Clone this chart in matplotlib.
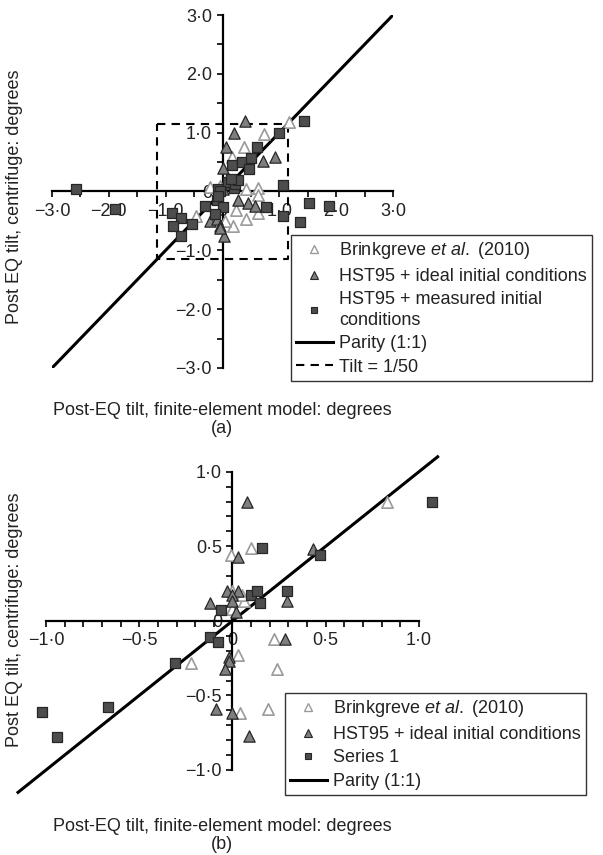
import matplotlib
matplotlib.use("Agg")
import matplotlib.pyplot as plt
from matplotlib.lines import Line2D
from matplotlib.ticker import MultipleLocator, FuncFormatter

plt.rcParams['font.family'] = ['Liberation Sans', 'DejaVu Sans']
plt.rcParams['mathtext.fontset'] = 'custom'
plt.rcParams['mathtext.rm'] = 'Liberation Sans'
plt.rcParams['mathtext.it'] = 'Liberation Sans:italic'

# ---- panel (a) data ----
brink_a_x = [1.17, 0.73, 0.38, 0.16, -0.22, 0.41, 0.63, 0.63, 0.24, 0.62, 0.42, 0.19, -0.46, 0.05, -0.05]
brink_a_y = [1.18, 0.98, 0.75, 0.59, 0.08, 0.04, 0.06, -0.06, -0.31, -0.37, -0.46, -0.58, -0.41, -0.50, 0.10]
ideal_a_x = [0.39, 0.21, 0.07, 0.92, 0.71, 0.01, 0.28, 0.45, 0.58, -0.22, -0.10, -0.04, 0.02, -0.05, 0.10, 0.00]
ideal_a_y = [1.20, 1.00, 0.76, 0.58, 0.52, 0.40, -0.15, -0.20, -0.24, -0.50, -0.46, -0.59, -0.76, -0.62, 0.15, 0.05]
meas_a_x = [-2.57, -1.89, -0.89, -0.73, -0.87, -0.73, -0.54, -0.30, -0.10, -0.08, 0.00, -0.13,
            0.16, 0.34, 0.51, 0.47, 0.61, 1.00, 1.44, 1.06, 1.53, 1.87, 0.76, 1.07, 1.37,
            0.21, 0.10, 0.22, 0.28, 0.15, -0.05, -0.08]
meas_a_y = [0.04, -0.30, -0.37, -0.45, -0.59, -0.76, -0.55, -0.24, -0.14, 0.05, -0.26, -0.38,
            0.45, 0.50, 0.57, 0.39, 0.75, 0.99, 1.20, 0.11, -0.19, -0.25, -0.26, -0.41, -0.51,
            0.06, 0.16, 0.13, 0.19, 0.22, 0.00, -0.08]
tilt_limit = 1.146  # 1/50 rad in degrees

# ---- panel (b) data ----
brink_b_x = [0.10, -0.01, 0.00, 0.06, 0.00, 0.22, 0.03, 0.24, 0.19, 0.04, -0.22, 0.83, 0.05]
brink_b_y = [0.49, 0.44, 0.20, 0.13, 0.08, -0.12, -0.23, -0.32, -0.59, -0.62, -0.28, 0.80, 0.17]
ideal_b_x = [0.08, 0.03, 0.43, -0.03, 0.03, 0.00, 0.00, -0.12, 0.02, 0.29, 0.28, -0.02, -0.02,
             -0.04, 0.00, -0.09, 0.09]
ideal_b_y = [0.80, 0.43, 0.48, 0.20, 0.20, 0.17, 0.13, 0.12, 0.06, 0.13, -0.12, -0.24, -0.27,
             -0.32, -0.62, -0.59, -0.77]
series1_b_x = [0.16, 0.47, 0.10, 0.13, 0.15, 0.29, -0.06, -0.12, -0.08, 1.07, -0.31, -0.67, -0.94, -1.02]
series1_b_y = [0.49, 0.44, 0.17, 0.20, 0.12, 0.20, 0.07, -0.11, -0.14, 0.80, -0.28, -0.58, -0.78, -0.61]

OPEN_EDGE = '#9a9a9a'
TRI_FILL = '#7f7f7f'
SQ_FILL = '#4d4d4d'
DARK_EDGE = '#262626'
TEXT = '#222222'
FS = 13


def fmt(step):
    def f(v, pos):
        if abs(v) < 1e-9:
            return '0'
        if abs(v / step - round(v / step)) > 1e-6:
            return ''
        s = '%.1f' % abs(v)
        s = s.replace('.', '\u00b7')
        return ('\u2212' + s) if v < 0 else s
    return FuncFormatter(f)


def style_axes(ax, lim, minor, label_step):
    ax.set_xlim(-lim, lim)
    ax.set_ylim(-lim, lim)
    for side in ['top', 'right']:
        ax.spines[side].set_visible(False)
    ax.spines['left'].set_position(('data', 0))
    ax.spines['bottom'].set_position(('data', 0))
    for side in ['left', 'bottom']:
        ax.spines[side].set_linewidth(1.6)
    ax.xaxis.set_major_locator(MultipleLocator(minor))
    ax.yaxis.set_major_locator(MultipleLocator(minor))
    ax.xaxis.set_major_formatter(fmt(label_step))
    ax.yaxis.set_major_formatter(fmt(label_step))
    ax.tick_params(axis='both', length=4, width=1.2, labelsize=FS, color='black', labelcolor=TEXT)
    ax.tick_params(axis='x', pad=4)
    ax.patch.set_alpha(0)


def draw_points(ax, bx, by, ix, iy, sx, sy):
    ax.scatter(bx, by, marker='^', s=66, facecolor='white', edgecolor=OPEN_EDGE, linewidth=1.2, zorder=3, clip_on=False)
    ax.scatter(ix, iy, marker='^', s=66, facecolor=TRI_FILL, edgecolor=DARK_EDGE, linewidth=0.9, zorder=4, clip_on=False)
    ax.scatter(sx, sy, marker='s', s=56, facecolor=SQ_FILL, edgecolor=DARK_EDGE, linewidth=0.9, zorder=5, clip_on=False)


def add_legend(fig, handles, labels, x0, y0):
    leg = fig.legend(handles, labels, loc='upper left', bbox_to_anchor=(x0 / 603, 1 - y0 / 855),
                     fontsize=FS, frameon=True, fancybox=False, edgecolor='black',
                     handlelength=2.0, handletextpad=0.35, borderpad=0.3,
                     labelspacing=0.36, borderaxespad=0)
    leg.get_frame().set_linewidth(1.0)
    for txt in leg.get_texts():
        txt.set_color(TEXT)
        txt.set_linespacing(1.25)
    return leg


fig = plt.figure(figsize=(6.03, 8.55), dpi=100)

leg_handles = [
    Line2D([], [], ls='none', marker='^', ms=5.5, mfc='white', mec=OPEN_EDGE, mew=1.0),
    Line2D([], [], ls='none', marker='^', ms=5.5, mfc=TRI_FILL, mec=DARK_EDGE, mew=0.8),
    Line2D([], [], ls='none', marker='s', ms=5, mfc=SQ_FILL, mec=DARK_EDGE, mew=0.8),
    Line2D([], [], color='black', lw=2.2),
    Line2D([], [], color='black', lw=1.5, ls=(0, (4, 3))),
]

# ---- panel (a) ----
ax1 = fig.add_axes([52 / 603, 1 - 368 / 855, 341 / 603, 353 / 855])
style_axes(ax1, 3.0, 0.5, 1.0)
ax1.plot([-3, 3], [-3, 3], color='black', lw=2.2, zorder=2)
t = tilt_limit
ax1.plot([-t, t, t, -t, -t], [t, t, -t, -t, t], color='black', lw=1.5, ls=(0, (4, 3)), zorder=2)
draw_points(ax1, brink_a_x, brink_a_y, ideal_a_x, ideal_a_y, meas_a_x, meas_a_y)

fig.text(222 / 603, 1 - 410 / 855, 'Post-EQ tilt, finite-element model: degrees', ha='center', va='center', fontsize=FS, color=TEXT)
fig.text(222 / 603, 1 - 428 / 855, '(a)', ha='center', va='center', fontsize=FS, color=TEXT)
fig.text(15 / 603, 1 - 197 / 855, 'Post EQ tilt, centrifuge: degrees', rotation=90, ha='center', va='center', fontsize=FS, color=TEXT)

add_legend(fig, leg_handles,
           ['Brinkgreve $\\it{et\\ al.}$ (2010)', 'HST95 + ideal initial conditions',
            'HST95 + measured initial\nconditions', 'Parity (1:1)', 'Tilt = 1/50'],
           291, 235)

# ---- panel (b) ----
ax2 = fig.add_axes([46 / 603, 1 - 770 / 855, 373 / 603, 298.3 / 855])
style_axes(ax2, 1.0, 0.1, 0.5)
ax2.plot([-1.15, 1.1], [-1.15, 1.1], color='black', lw=2.2, zorder=2, clip_on=False)
draw_points(ax2, brink_b_x, brink_b_y, ideal_b_x, ideal_b_y, series1_b_x, series1_b_y)

fig.text(222 / 603, 1 - 826 / 855, 'Post-EQ tilt, finite-element model: degrees', ha='center', va='center', fontsize=FS, color=TEXT)
fig.text(222 / 603, 1 - 844 / 855, '(b)', ha='center', va='center', fontsize=FS, color=TEXT)
fig.text(15 / 603, 1 - 620 / 855, 'Post EQ tilt, centrifuge: degrees', rotation=90, ha='center', va='center', fontsize=FS, color=TEXT)

add_legend(fig, leg_handles[:4],
           ['Brinkgreve $\\it{et\\ al.}$ (2010)', 'HST95 + ideal initial conditions',
            'Series 1', 'Parity (1:1)'],
           285, 693)

fig.savefig('out.png', dpi=100, facecolor='white')
